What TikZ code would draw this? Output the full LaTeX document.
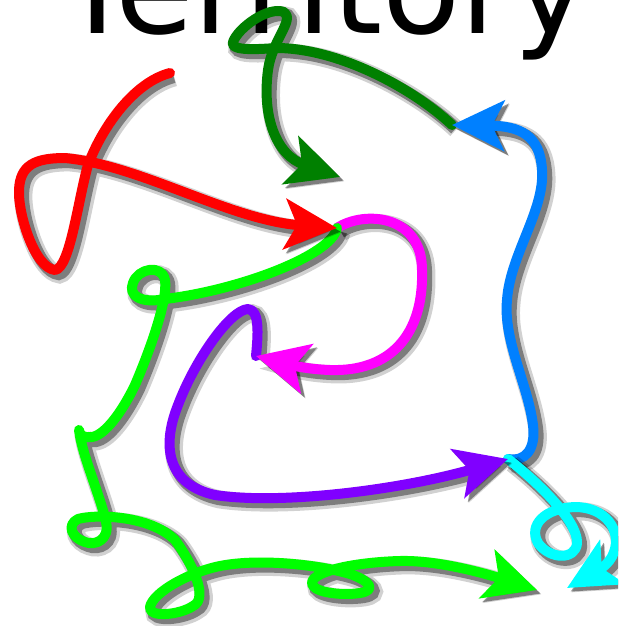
\documentclass[tikz,border=0pt]{standalone}
\usepackage{fontspec}
\setmainfont{DejaVu Sans}
\usepackage{xcolor}
\usepackage{tikz}
\definecolor{tred}{RGB}{255,0,0}
\definecolor{tdkgreen}{RGB}{0,128,0}
\definecolor{tblue}{RGB}{0,128,255}
\definecolor{tmagenta}{RGB}{255,0,255}
\definecolor{tviolet}{RGB}{128,0,255}
\definecolor{tcyan}{RGB}{0,255,255}
\definecolor{tlime}{RGB}{0,255,0}
\usetikzlibrary{arrows.meta}

\begin{document}
\begin{tikzpicture}[
    x=0.5pt, y=-0.5pt,
    curl/.style={line width=5pt, line cap=round, line join=round,
      -{Stealth[length=26pt, width=25pt, inset=6pt]},
      preaction={draw=black, opacity=.18, line width=9pt, transform canvas={shift={(2.2pt,-2.2pt)}}},
      preaction={draw=black, opacity=.4, line width=6.5pt, transform canvas={shift={(1.8pt,-1.8pt)}}},
      preaction={draw=black, opacity=.9, transform canvas={shift={(1.3pt,-1.3pt)}}}},
    title/.style={font=\fontsize{64}{70}\selectfont, anchor=base, inner sep=0pt}
]

\useasboundingbox (0,0) rectangle (618,626);
\clip (0,0) rectangle (618,626);
\fill[white] (0,0) rectangle (618,626);

\node[title] (title) at (324,34) {Territory};

% meeting points of the curls
\coordinate (redtip) at (337,228);
\coordinate (greentip) at (340,177);
\coordinate (bluetip) at (452,125);
\coordinate (magtip) at (256,356);
\coordinate (violettip) at (508,459);
\coordinate (cyantip) at (567,588);
\coordinate (limetip) at (537,590);

\draw[curl, tdkgreen] (bluetip) .. controls (415,90) and (340,48) .. (276,48)
  .. controls (250,50) and (230,50) .. (233,42) .. controls (238,28) and (268,6) .. (284,12)
  .. controls (295,20) and (272,40) .. (268,70) .. controls (262,115) and (275,155) .. (greentip);

\draw[curl, tblue] (violettip) .. controls (525,462) and (536,450) .. (533,425)
  .. controls (528,385) and (503,340) .. (507,300) .. controls (510,255) and (545,210) .. (542,170)
  .. controls (540,135) and (520,126) .. (bluetip);

\draw[curl, tcyan] (violettip) .. controls (535,480) and (578,520) .. (577,543)
  .. controls (576,560) and (550,560) .. (538,543) .. controls (528,525) and (545,508) .. (575,507)
  .. controls (605,507) and (622,530) .. (614,552) .. controls (610,565) and (595,572) .. (cyantip);

\draw[curl, tviolet] (magtip) .. controls (258,335) and (260,310) .. (248,309)
  .. controls (230,310) and (195,360) .. (178,405) .. controls (160,450) and (170,485) .. (215,495)
  .. controls (280,505) and (400,490) .. (violettip);

\draw[curl, tmagenta] (redtip) .. controls (365,210) and (422,215) .. (422,270)
  .. controls (424,335) and (390,372) .. (330,370) .. controls (300,369) and (280,362) .. (magtip);

\draw[curl, tlime] (redtip) .. controls (332,255) and (240,290) .. (165,299)
  .. controls (140,304) and (128,295) .. (133,283) .. controls (138,268) and (162,264) .. (165,280)
  .. controls (168,300) and (150,350) .. (135,385) .. controls (122,412) and (105,435) .. (92,437)
  .. controls (85,438) and (79,436) .. (79,430) .. controls (82,455) and (100,495) .. (106,522)
  .. controls (110,540) and (95,546) .. (85,542) .. controls (72,538) and (66,525) .. (78,519)
  .. controls (95,514) and (150,515) .. (175,540) .. controls (190,560) and (210,598) .. (193,606)
  .. controls (180,615) and (148,618) .. (150,607) .. controls (153,592) and (190,572) .. (220,566)
  .. controls (260,558) and (320,565) .. (350,574) .. controls (368,580) and (378,590) .. (360,593)
  .. controls (340,596) and (310,592) .. (312,582) .. controls (315,570) and (360,562) .. (400,561)
  .. controls (440,560) and (490,575) .. (limetip);

\draw[curl, tred] (170,73) .. controls (135,82) and (103,125) .. (88,165)
  .. controls (78,200) and (70,268) .. (55,270) .. controls (35,268) and (18,215) .. (19,190)
  .. controls (20,165) and (35,158) .. (65,158) .. controls (140,165) and (230,220) .. (redtip);

\end{tikzpicture}
\end{document}
